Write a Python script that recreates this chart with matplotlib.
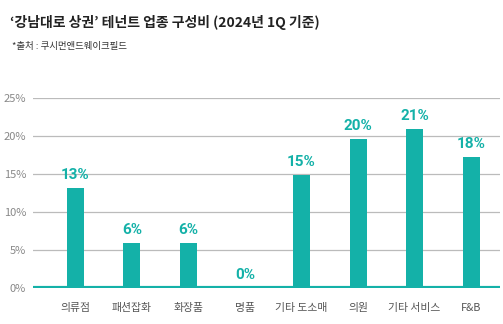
import matplotlib
matplotlib.use("Agg")
from matplotlib import pyplot as plt
import numpy as np

categories = ["의류점", "패션잡화", "화장품", "명품", "기타 도소매", "의원", "기타 서비스", "F&B"]
shares = [13.2, 5.9, 5.9, 0.0, 14.9, 19.6, 20.9, 17.2]
share_labels = ["13%", "6%", "6%", "0%", "15%", "20%", "21%", "18%"]
yticks = [0, 5, 10, 15, 20, 25]

TEAL = "#14b1a8"
KR = ["Noto Sans CJK KR", "DejaVu Sans"]
plt.rcParams["font.family"] = KR

fig = plt.figure(figsize=(5.03, 3.24), dpi=100)
ax = fig.add_axes([0.0656, 0.111, 0.9284, 0.5864])

x = np.arange(len(categories))
ax.bar(x, shares, width=0.3, color=TEAL, zorder=3)
for xi, v, lab in zip(x, shares, share_labels):
    ax.text(xi, v + 0.8, lab, ha="center", va="bottom", color=TEAL,
            fontsize=11, fontweight="bold",
            family=["Roboto", "DejaVu Sans"], zorder=4)

ax.set_ylim(0, 25)
ax.set_xlim(-0.75, 7.51)
ax.set_yticks(yticks)
ax.set_yticklabels([f"{t}%" for t in yticks], color="#888888", fontsize=8)
ax.yaxis.grid(True, color="#bbbbbb", linewidth=0.9, zorder=0)
ax.axhline(0, color=TEAL, linewidth=3, zorder=5)
ax.set_xticks(x)
ax.set_xticklabels(categories, fontsize=7.8, color="#555555")
ax.tick_params(axis="both", length=0)
ax.tick_params(axis="x", pad=11)
ax.tick_params(axis="y", pad=5)
for s in ax.spines.values():
    s.set_visible(False)

fig.text(0.02, 0.932, "‘강남대로 상권’ 테넌트 업종 구성비 (2024년 1Q 기준)",
         fontsize=10, fontweight="bold", color="#222222", va="center")
fig.text(0.024, 0.858, "*출처 : 쿠시먼앤드웨이크필드", fontsize=6.8, color="#333333", va="center")

fig.savefig("out.png", dpi=100)
